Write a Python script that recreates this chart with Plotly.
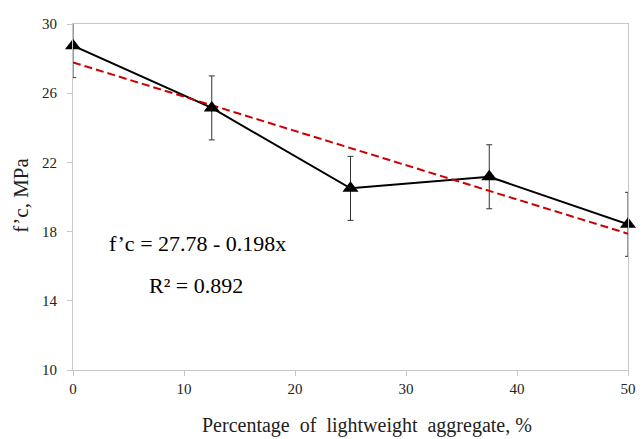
import plotly.graph_objects as go

x_pct = [0, 12.5, 25, 37.5, 50]
fc_mpa = [28.75, 25.15, 20.5, 21.17, 18.42]
fc_err = [1.85, 1.85, 1.85, 1.85, 1.85]
trend_x = [0, 50]
intercept = 27.78
slope = -0.198
trend_y = [intercept + slope * v for v in trend_x]
x_ticks = [0, 10, 20, 30, 40, 50]
y_ticks = [10, 14, 18, 22, 26, 30]

FONT = "Liberation Serif"
OFF = 8  # page body margin offset in the browser
W, H = 644 - OFF, 439 - OFF
l, r, t, b = 73 - OFF, 8, 16 - OFF, 69
pw, ph = W - l - r, H - t - b


def px(xs):
    return (xs - OFF - l) / pw


def py(ys):
    return (H - b - (ys - OFF)) / ph


fig = go.Figure()
fig.add_trace(go.Scatter(
    x=x_pct, y=fc_mpa, mode="lines",
    line=dict(color="black", width=2),
    error_y=dict(type="data", array=fc_err, visible=True, color="#333333", thickness=1, width=3),
    cliponaxis=True, showlegend=False, hoverinfo="skip"))
fig.add_trace(go.Scatter(
    x=trend_x, y=trend_y, mode="lines",
    line=dict(color="#cc0000", width=2, dash="8px,4px"),
    showlegend=False))
fig.add_trace(go.Scatter(
    x=x_pct, y=fc_mpa, mode="markers",
    marker=dict(symbol="triangle-up", size=14, color="black"),
    cliponaxis=False, showlegend=False))

axis_common = dict(
    showline=True, linecolor="#c8c8c8", linewidth=1, mirror=True,
    ticks="outside", ticklen=5, tickcolor="#c8c8c8", tickwidth=1,
    showgrid=False, zeroline=False,
    tickfont=dict(family=FONT, size=15, color="#222222"),
)
fig.update_xaxes(range=[0, 50], tickvals=x_ticks, **axis_common)
fig.update_yaxes(range=[10, 30], tickvals=y_ticks, ticklabelstandoff=7, **axis_common)

fig.update_layout(
    width=W, height=H,
    margin=dict(l=l, r=r, t=t, b=b),
    paper_bgcolor="white", plot_bgcolor="white",
    font=dict(family=FONT, color="#222222"),
    annotations=[
        dict(text="f’c = 27.78 - 0.198x", x=px(107), y=py(241), xref="paper", yref="paper",
             xanchor="left", yanchor="middle", showarrow=False,
             font=dict(family=FONT, size=22, color="black")),
        dict(text="R² = 0.892", x=px(148), y=py(284), xref="paper", yref="paper",
             xanchor="left", yanchor="middle", showarrow=False,
             font=dict(family=FONT, size=22, color="black")),
        dict(text="f’c, MPa", x=px(20), y=py(191), xref="paper", yref="paper",
             xanchor="center", yanchor="middle", showarrow=False, textangle=-90,
             font=dict(family=FONT, size=21, color="#222222")),
        dict(text="Percentage  of  lightweight  aggregate, %", x=px(371), y=py(427),
             xref="paper", yref="paper", xanchor="center", yanchor="middle", showarrow=False,
             font=dict(family=FONT, size=20, color="#222222")),
    ],
)

fig.write_html("out.html")
